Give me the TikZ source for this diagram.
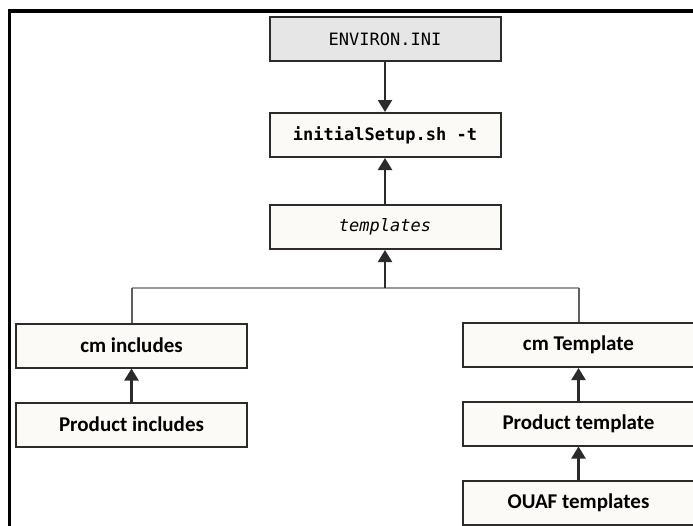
\documentclass[tikz,border=0pt]{standalone}
\usepackage{fontspec}
\setmonofont{DejaVu Sans Mono}
\newfontfamily\boxsans{Carlito}
\usetikzlibrary{arrows.meta}
\definecolor{boxline}{HTML}{2B2B2B}
\definecolor{boxfill}{HTML}{FBFAF7}
\definecolor{topfill}{HTML}{E6E6E6}
\definecolor{busline}{HTML}{9A9A9A}
\tikzset{
  box/.style={draw=boxline, line width=2pt, fill=boxfill, minimum width=231pt, minimum height=44pt, inner sep=0pt, anchor=center},
  monotext/.style={font=\fontsize{17}{20}\selectfont\ttfamily},
  sanstext/.style={font=\fontsize{21}{24}\selectfont\boxsans\bfseries},
  link/.style={draw=boxline, line width=2.2pt, -{Triangle[width=14pt,length=12pt]}},
  bus/.style={draw=busline, line width=2.4pt},
  drop/.style={draw=boxline!75, line width=2pt},
}
\begin{document}
\begin{tikzpicture}[x=1pt,y=-1pt]
\useasboundingbox (0,0) rectangle (693,525);
\fill[white] (0,0) rectangle (693,525);
% frame
\draw[line width=3.2pt, line cap=rect] (9.5,525) -- (9.5,11) -- (693,11);
% nodes
\node[box, fill=topfill, monotext] (env) at (385,39) {ENVIRON.INI};
\node[box, monotext, font=\fontsize{17}{20}\selectfont\ttfamily\bfseries] (init) at (385,135) {initialSetup.sh -t};
\node[box, monotext, font=\fontsize{17}{20}\selectfont\ttfamily\itshape] (tpl) at (385,227) {templates};
\node[box, sanstext] (cmi) at (131.5,345.5) {cm includes};
\node[box, sanstext] (pi) at (131.5,424.5) {Product includes};
\node[box, sanstext] (cmt) at (578.5,345) {cm Template};
\node[box, sanstext] (pt) at (578.5,423.5) {Product template};
\node[box, sanstext] (ouaf) at (578.5,503) {OUAF templates};
% bus coordinates
\coordinate (bc) at (385,288);
\coordinate (bl) at (131.5,288);
\coordinate (br) at (578.5,288);
% connectors
\draw[link] (env.south) -- (init.north);
\draw[link] (tpl.north) -- (init.south);
\draw[bus] (bl) -- (br);
\draw[drop] (bl) -- (cmi.north);
\draw[drop] (br) -- (cmt.north);
\draw[link] (bc) -- (tpl.south);
\draw[link] (pi.north) -- (cmi.south);
\draw[link] (pt.north) -- (cmt.south);
\draw[link] (ouaf.north) -- (pt.south);
\end{tikzpicture}
\end{document}
